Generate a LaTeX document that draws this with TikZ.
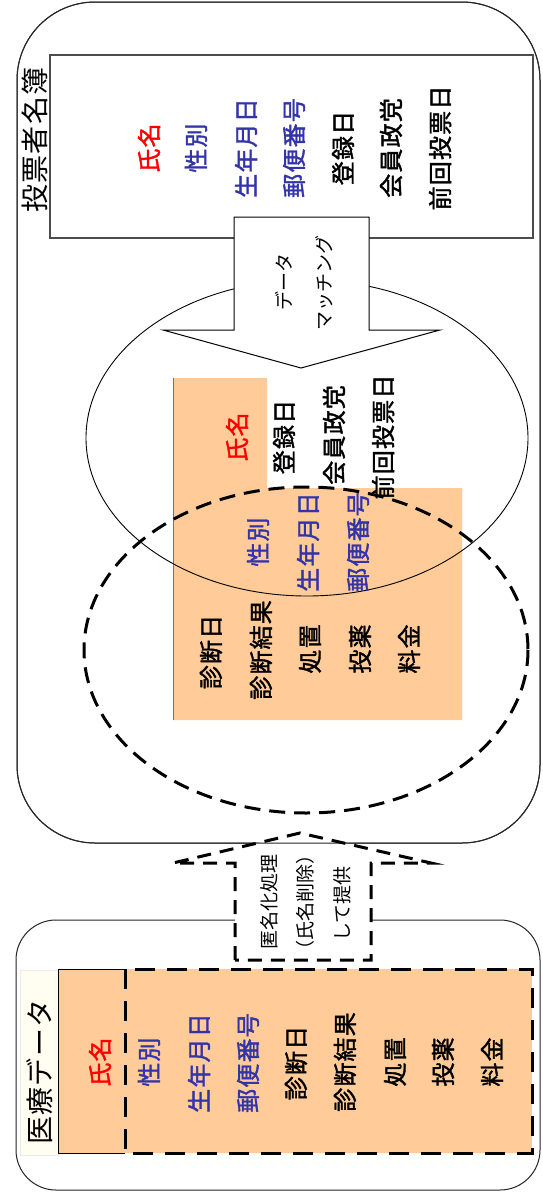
\documentclass[tikz,border=0pt]{standalone}
\usepackage{fontspec}
\setmainfont{Noto Sans CJK JP}
\newfontfamily\jpls[LetterSpace=5,FakeBold=1.6]{Noto Sans CJK JP}
\newfontfamily\jptl[LetterSpace=4]{Noto Sans CJK JP}
\newfontfamily\jpsm{Noto Sans CJK JP}
\definecolor{peach}{HTML}{FFCC99}
\definecolor{fblue}{RGB}{51,51,170}
\definecolor{fred}{RGB}{255,0,0}
\begin{document}
\begin{tikzpicture}[x=1pt,y=-1pt,
  fld/.style={rotate=90,inner sep=0pt,font=\jpls\fontsize{24}{28}\selectfont},
  fldr/.style={fld,text=fred},
  fldb/.style={fld,text=fblue},
  ttl/.style={rotate=90,inner sep=0pt,font=\jptl\fontsize{28}{32}\selectfont},
  small/.style={rotate=90,inner sep=0pt,font=\jpsm\fontsize{19}{22}\selectfont},
  bigbox/.style={draw=black!85,line width=1pt},
  thickdash/.style={line width=3pt,dash pattern=on 16pt off 9pt}]
\useasboundingbox (0,0) rectangle (543,1197);
\fill[white] (0,0) rectangle (543,1197);

% ---------- upper group ----------
\draw[bigbox,rounded corners=78pt] (17,2) rectangle (540,843);
\draw[draw=black!70,line width=1.2pt,fill=white] (50,55) rectangle (533,238);
\node[ttl] (ttop) at (35,140) {投票者名簿};

\node[fldr] (a1) at (149,148) {氏名};
\node[fldb] (a2) at (196,148) {性別};
\node[fldb] (a3) at (246,148) {生年月日};
\node[fldb] (a4) at (294,148) {郵便番号};
\node[fld]  (a5) at (343,148) {登録日};
\node[fld]  (a6) at (391,148) {会員政党};
\node[fld]  (a7) at (440,148) {前回投票日};

% merged data
\fill[peach] (173,378) -- (267,378) -- (267,488) -- (462,488) -- (462,720) -- (173,720) -- cycle;
\draw[black!55,line width=0.8pt] (173,378) -- (173,720);
\draw[line width=0.9pt] (307,438) ellipse [x radius=221, y radius=158];
\draw[thickdash] (306,650) ellipse [x radius=222, y radius=163];

\node[fldr] (m1) at (237,437) {氏名};
\node[fld]  (m2) at (284,437) {登録日};
\node[fld]  (m3) at (334,435) {会員政党};
\node[fld]  (m4) at (383,437) {前回投票日};
\node[fldb] (m5) at (258,542) {性別};
\node[fldb] (m6) at (308,542) {生年月日};
\node[fldb] (m7) at (358,542) {郵便番号};
\node[fld]  (m8) at (211,652) {診断日};
\node[fld]  (m9) at (261,650) {診断結果};
\node[fld]  (m10) at (310,649) {処置};
\node[fld]  (m11) at (360,649) {投薬};
\node[fld]  (m12) at (409,649) {料金};

% matching arrow
\draw[line width=1pt,fill=white] (234,217) -- (369,217) -- (369,330) -- (440,330)
  -- (301,368) -- (163,330) -- (234,330) -- cycle;
\node[small] (d1) at (284,282) {データ};
\node[small] (d2) at (324,283) {マッチング};

% ---------- lower group ----------
\draw[bigbox,rounded corners=40pt] (16,920) rectangle (540,1190);
\draw[draw=black!8,fill=yellow!6] (20,970) rectangle (58,1155);
\node[ttl] (tbot) at (40,1072) {医療データ};
\fill[peach] (58,969) rectangle (532,1153);
\draw[line width=1pt] (125,969) -- (58,969) -- (58,1153) -- (125,1153);
\draw[line width=3pt,dash pattern=on 20pt off 12pt] (125,969) rectangle (532,1153);

\node[fldr] (b1) at (100,1062) {氏名};
\node[fldb] (b2) at (149,1062) {性別};
\node[fldb] (b3) at (199,1063) {生年月日};
\node[fldb] (b4) at (248,1063) {郵便番号};
\node[fld]  (b5) at (296,1063) {診断日};
\node[fld]  (b6) at (345,1062) {診断結果};
\node[fld]  (b7) at (395,1062) {処置};
\node[fld]  (b8) at (443,1062) {投薬};
\node[fld]  (b9) at (492,1062) {料金};

% anonymisation arrow
\fill[white] (235,960) -- (235,863) -- (173,863) -- (300,833) -- (431,863)
  -- (371,863) -- (371,960) -- cycle;
\draw[bigbox,rounded corners=78pt] (17,2) rectangle (540,843);
\draw[line width=3pt,dash pattern=on 14pt off 9pt] (235,960) -- (235,863) -- (173,863)
  -- (300,833) -- (431,863) -- (371,863) -- (371,960) -- cycle;
\node[small] (e1) at (269,902) {匿名化処理};
\node[small] (e2) at (305,902) {（氏名削除）};
\node[small] (e3) at (342,904) {して提供};
\end{tikzpicture}
\end{document}
